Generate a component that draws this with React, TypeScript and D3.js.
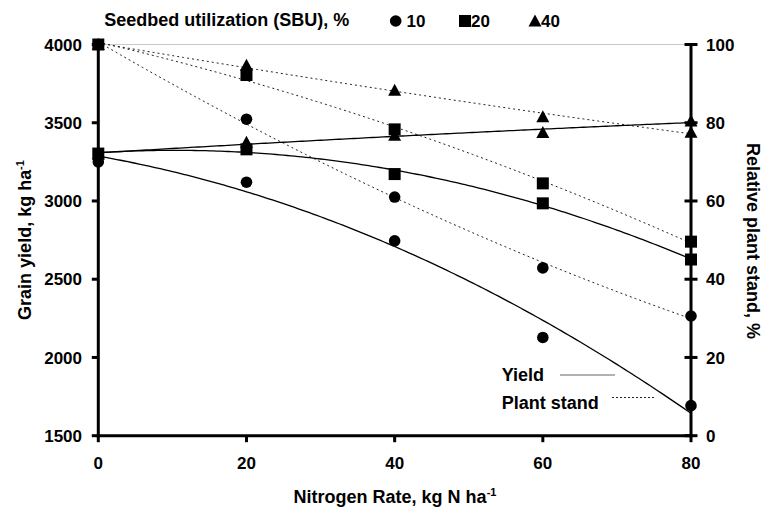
import React from "react";
import * as d3 from "d3";

const nRates = [0, 20, 40, 60, 80];
const sbuLevels = ["10", "20", "40"];
const yield10 = [3250, 3120, 2745, 2128, 1692];
const yield20 = [3303, 3330, 3172, 2985, 2626];
const yield40 = [3300, 3375, 3420, 3437, 3511];
const stand10 = [100, 80.9, 61, 42.9, 30.6];
const stand20 = [100, 92.2, 78.3, 64.5, 49.6];
const stand40 = [100, 94.7, 88.3, 81.5, 77.6];
const xTicks = [0, 20, 40, 60, 80];
const yLeftTicks = [1500, 2000, 2500, 3000, 3500, 4000];
const yRightTicks = [0, 20, 40, 60, 80, 100];

const W = 762;
const H = 508;
const X0 = 98.3;
const X1 = 691;
const YT = 44.5;
const YB = 435.7;
const FONT = "'Liberation Sans', Arial, Helvetica, sans-serif";

function polyfit2(xs: number[], ys: number[]) {
  // least squares quadratic fit via normal equations
  let s0 = 0, s1 = 0, s2 = 0, s3 = 0, s4 = 0, t0 = 0, t1 = 0, t2 = 0;
  xs.forEach((x, i) => {
    const y = ys[i];
    s0 += 1; s1 += x; s2 += x * x; s3 += x ** 3; s4 += x ** 4;
    t0 += y; t1 += x * y; t2 += x * x * y;
  });
  const M = [
    [s0, s1, s2],
    [s1, s2, s3],
    [s2, s3, s4],
  ];
  const v = [t0, t1, t2];
  const det = (m: number[][]) =>
    m[0][0] * (m[1][1] * m[2][2] - m[1][2] * m[2][1]) -
    m[0][1] * (m[1][0] * m[2][2] - m[1][2] * m[2][0]) +
    m[0][2] * (m[1][0] * m[2][1] - m[1][1] * m[2][0]);
  const D = det(M);
  const coef = [0, 1, 2].map((c) => {
    const m = M.map((row, r) => row.map((val, k) => (k === c ? v[r] : val)));
    return det(m) / D;
  });
  return (x: number) => coef[0] + coef[1] * x + coef[2] * x * x;
}

export default function App() {
  const x = d3.scaleLinear().domain([0, 80]).range([X0, X1]);
  const yL = d3.scaleLinear().domain([1500, 4000]).range([YB, YT]);
  const yR = d3.scaleLinear().domain([0, 100]).range([YB, YT]);

  const samples = d3.range(0, 80.001, 0.5);
  const yieldSeries = [yield10, yield20, yield40];
  const standSeries = [stand10, stand20, stand40];

  const yieldLine = d3
    .line<number>()
    .x((d) => x(d))
    .y((d) => 0);

  const makePath = (f: (v: number) => number, scale: (v: number) => number) =>
    d3
      .line<number>()
      .x((d) => x(d))
      .y((d) => scale(f(d)))(samples) as string;

  const yieldPaths = yieldSeries.map((ys) => makePath(polyfit2(nRates, ys), yL));
  const standPaths = standSeries.map((ys) => makePath(polyfit2(nRates, ys), yR));

  const circle = (cx: number, cy: number, key: string) => (
    <circle key={key} cx={cx} cy={cy} r={5.8} fill="#000" />
  );
  const square = (cx: number, cy: number, key: string) => (
    <rect key={key} x={cx - 6} y={cy - 6} width={12} height={12} fill="#000" />
  );
  const triangle = (cx: number, cy: number, key: string) => (
    <path
      key={key}
      d={`M${cx},${cy - 6.5}L${cx + 6.5},${cy + 5.5}L${cx - 6.5},${cy + 5.5}Z`}
      fill="#000"
    />
  );
  const markerFns = [circle, square, triangle];

  void yieldLine;

  return (
    <svg
      width={W}
      height={H}
      style={{ position: "absolute", left: 0, top: 0, background: "#fff" }}
      fontFamily={FONT}
    >
      <rect width={W} height={H} fill="#fff" />
      {/* top gridline */}
      <line x1={X0} x2={X1} y1={YT} y2={YT} stroke="#c8c8c8" strokeWidth={1} />

      {/* fitted curves */}
      {standPaths.map((p, i) => (
        <path key={"sp" + i} d={p} fill="none" stroke="#222" strokeWidth={1} strokeDasharray="2,3" />
      ))}
      {yieldPaths.map((p, i) => (
        <path key={"yp" + i} d={p} fill="none" stroke="#000" strokeWidth={1.3} />
      ))}

      {/* markers */}
      {[0, 1, 2].map((s) =>
        nRates.map((n, i) => markerFns[s](x(n), yL(yieldSeries[s][i]), `y${s}-${i}`))
      )}
      {[0, 2, 1].map((s) =>
        nRates.map((n, i) => markerFns[s](x(n), yR(standSeries[s][i]), `s${s}-${i}`))
      )}

      {/* axes */}
      <line x1={X0} x2={X0} y1={YT} y2={YB + 1.5} stroke="#000" strokeWidth={3} />
      <line x1={X1} x2={X1} y1={YT} y2={YB + 1.5} stroke="#000" strokeWidth={3} />
      <line x1={X0 - 1.5} x2={X1 + 1.5} y1={YB} y2={YB} stroke="#000" strokeWidth={3} />

      {yLeftTicks.map((t) => (
        <g key={"l" + t}>
          <line x1={X0 - 6.5} x2={X0} y1={yL(t)} y2={yL(t)} stroke="#000" strokeWidth={3} />
          <text x={82} y={yL(t)} dy="0.36em" textAnchor="end" fontSize={17} fontWeight="bold">
            {t}
          </text>
        </g>
      ))}
      {yRightTicks.map((t) => (
        <g key={"r" + t}>
          <line x1={X1 - 6.5} x2={X1 + 6.5} y1={yR(t)} y2={yR(t)} stroke="#000" strokeWidth={3} />
          <text x={706} y={yR(t)} dy="0.36em" textAnchor="start" fontSize={17} fontWeight="bold">
            {t}
          </text>
        </g>
      ))}
      {xTicks.map((t) => (
        <g key={"b" + t}>
          <line x1={x(t)} x2={x(t)} y1={YB} y2={YB + 6.5} stroke="#000" strokeWidth={3} />
          <text x={x(t)} y={469} textAnchor="middle" fontSize={17} fontWeight="bold">
            {t}
          </text>
        </g>
      ))}

      {/* axis titles */}
      <text x={395} y={503} textAnchor="middle" fontSize={18} fontWeight="bold">
        Nitrogen Rate, kg N ha
        <tspan dy={-7} fontSize={11}>-1</tspan>
      </text>
      <text
        transform={`translate(31,240) rotate(-90)`}
        textAnchor="middle"
        fontSize={18}
        fontWeight="bold"
      >
        Grain yield, kg ha
        <tspan dy={-7} fontSize={11}>-1</tspan>
      </text>
      <text
        transform={`translate(747,241) rotate(90)`}
        textAnchor="middle"
        fontSize={18}
        fontWeight="bold"
      >
        Relative plant stand, %
      </text>

      {/* top legend */}
      <text x={104.3} y={26} fontSize={18} fontWeight="bold">
        Seedbed utilization (SBU), %
      </text>
      {circle(395.7, 21, "lg0")}
      <text x={406.5} y={26.5} fontSize={17} fontWeight="bold">{sbuLevels[0]}</text>
      {square(465, 21, "lg1")}
      <text x={471} y={26.5} fontSize={17} fontWeight="bold">{sbuLevels[1]}</text>
      {triangle(535, 21, "lg2")}
      <text x={541} y={26.5} fontSize={17} fontWeight="bold">{sbuLevels[2]}</text>

      {/* inner legend */}
      <text x={501.7} y={381} fontSize={18} fontWeight="bold">Yield</text>
      <line x1={560} x2={615} y1={375} y2={375} stroke="#666" strokeWidth={1} />
      <text x={501.7} y={408.5} fontSize={18} fontWeight="bold">Plant stand</text>
      <line x1={612} x2={654} y1={397.5} y2={397.5} stroke="#222" strokeWidth={1} strokeDasharray="2,2" />
    </svg>
  );
}
